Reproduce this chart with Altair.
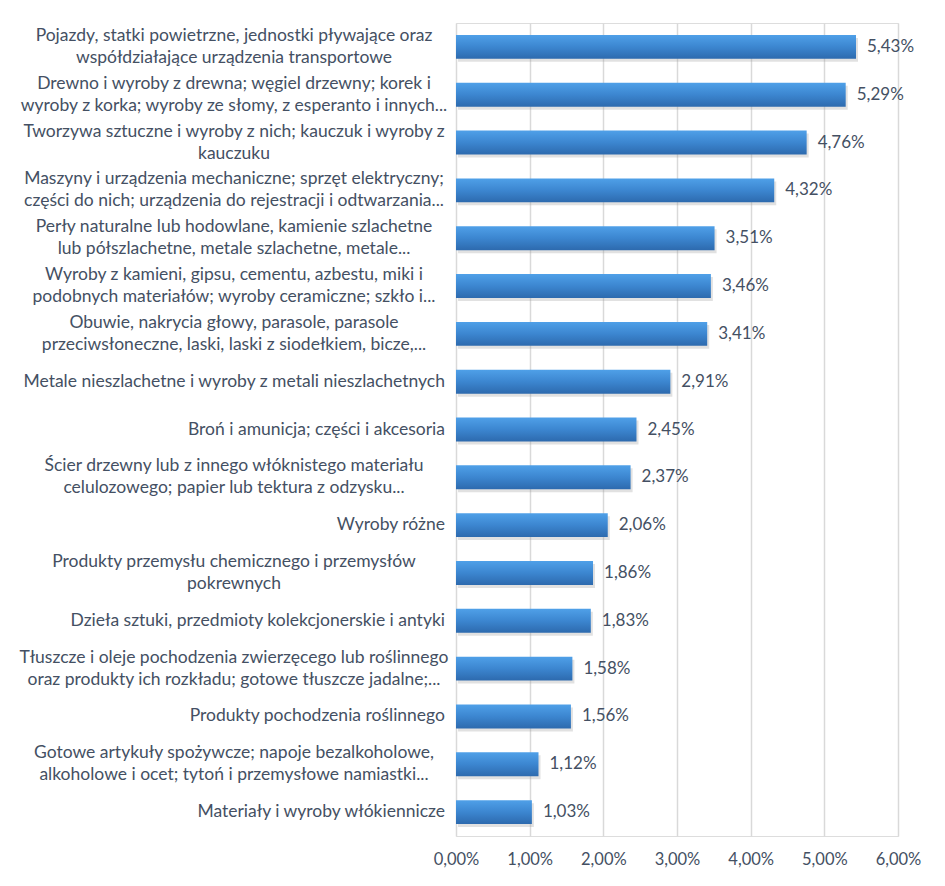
import altair as alt
import pandas as pd

categories = [
    "Pojazdy, statki powietrzne, jednostki pływające oraz\nwspółdziałające urządzenia transportowe",
    "Drewno i wyroby z drewna; węgiel drzewny; korek i\nwyroby z korka; wyroby ze słomy, z esperanto i innych...",
    "Tworzywa sztuczne i wyroby z nich; kauczuk i wyroby z\nkauczuku",
    "Maszyny i urządzenia mechaniczne; sprzęt elektryczny;\nczęści do nich; urządzenia do rejestracji i odtwarzania...",
    "Perły naturalne lub hodowlane, kamienie szlachetne\nlub półszlachetne, metale szlachetne, metale...",
    "Wyroby z kamieni, gipsu, cementu, azbestu, miki i\npodobnych materiałów; wyroby ceramiczne; szkło i...",
    "Obuwie, nakrycia głowy, parasole, parasole\nprzeciwsłoneczne, laski, laski z siodełkiem, bicze,...",
    "Metale nieszlachetne i wyroby z metali nieszlachetnych",
    "Broń i amunicja; części i akcesoria",
    "Ścier drzewny lub z innego włóknistego materiału\ncelulozowego; papier lub tektura z odzysku...",
    "Wyroby różne",
    "Produkty przemysłu chemicznego i przemysłów\npokrewnych",
    "Dzieła sztuki, przedmioty kolekcjonerskie i antyki",
    "Tłuszcze i oleje pochodzenia zwierzęcego lub roślinnego\noraz produkty ich rozkładu; gotowe tłuszcze jadalne;...",
    "Produkty pochodzenia roślinnego",
    "Gotowe artykuły spożywcze; napoje bezalkoholowe,\nalkoholowe i ocet; tytoń i przemysłowe namiastki...",
    "Materiały i wyroby włókiennicze",
]
values = [5.43, 5.29, 4.76, 4.32, 3.51, 3.46, 3.41, 2.91, 2.45, 2.37, 2.06, 1.86, 1.83, 1.58, 1.56, 1.12, 1.03]
x_ticks = [0, 1, 2, 3, 4, 5, 6]

df = pd.DataFrame({"cat": categories, "val": values})
df["label"] = [f"{v:.2f}".replace(".", ",") + "%" for v in values]
df["multi"] = ["\n" in c for c in categories]

FONT = "Lato"
TXT = "#445063"

y_enc = alt.Y("cat:N", sort=None, axis=None,
              scale=alt.Scale(paddingInner=0.5, paddingOuter=0.25))
x_enc = alt.X("val:Q",
              scale=alt.Scale(domain=[0, 6], nice=False),
              axis=alt.Axis(values=x_ticks, title=None, domain=False, ticks=False,
                            grid=True, gridColor="#d9d9d9", gridWidth=1.5,
                            labelFlush=False,
                            labelExpr="replace(format(datum.value, '.2f'), '.', ',') + '%'",
                            labelFont=FONT, labelFontSize=16.5, labelColor=TXT,
                            labelPadding=15))

base = alt.Chart(df)

shadow = base.mark_bar(color="#9a9a9a", opacity=0.3, yOffset=3, xOffset=2).encode(
    x=x_enc, y=y_enc)

bars = base.mark_bar(
    color=alt.Gradient(
        gradient="linear",
        stops=[alt.GradientStop(color="#4fa0e8", offset=0),
               alt.GradientStop(color="#3c86d0", offset=0.5),
               alt.GradientStop(color="#2d6aae", offset=1)],
        x1=0, x2=0, y1=0, y2=1)
).encode(x=x_enc, y=y_enc)

values_txt = base.mark_text(align="left", baseline="middle", dx=11, font=FONT,
                            fontSize=17, color=TXT).encode(
    x="val:Q", y=y_enc, text="label:N")

single_lbl = base.transform_filter("!datum.multi").mark_text(
    align="right", baseline="middle", font=FONT, fontSize=17.5, color=TXT
).encode(x=alt.value(-11), y=y_enc, text="cat:N")

multi_lbl = base.transform_filter("datum.multi").mark_text(
    align="center", baseline="middle", font=FONT, fontSize=17.5, color=TXT,
    lineBreak="\n", lineHeight=22, dy=-11).encode(x=alt.value(-222), y=y_enc, text="cat:N")

chart = alt.layer(shadow, bars, values_txt, single_lbl, multi_lbl).properties(
    width=442, height=813,
    autosize=alt.AutoSizeParams(type="none"),
    padding={"left": 456, "top": 23, "right": 47, "bottom": 50},
).configure_view(stroke=None).configure(background="white")

chart.save("out.html", embed_options={"renderer": "svg", "actions": False})
